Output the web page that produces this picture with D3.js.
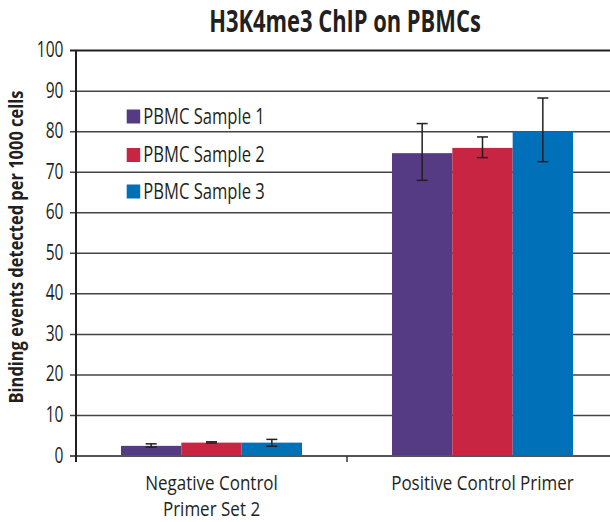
<!DOCTYPE html>
<html>
<head>
<meta charset="utf-8">
<script src="https://cdn.jsdelivr.net/npm/d3@7"></script>
<style>
  body { margin: 0; background: #fff; }
  svg text { font-family: "Open Sans", sans-serif; fill: #231f20; }
</style>
</head>
<body>
<div id="chart"></div>
<script>
// 数据
const categories = ["Negative Control|Primer Set 2", "Positive Control Primer"];
const seriesNames = ["PBMC Sample 1", "PBMC Sample 2", "PBMC Sample 3"];
const seriesColors = ["#553a84", "#c72541", "#0071b9"];
const values = [
    [2.5, 74.7],
    [3.3, 76.0],
    [3.3, 80.1]
];
const errLow = [
    [2.2, 68.0],
    [3.2, 73.6],
    [2.4, 72.6]
];
const errHigh = [
    [3.0, 82.0],
    [3.5, 78.7],
    [4.1, 88.3]
];
const yTicks = [0, 10, 20, 30, 40, 50, 60, 70, 80, 90, 100];

const width = 610, height = 522;
const margin = { left: 76, right: -8, top: 50.6, bottom: 66 };

// 参考图字体是窄体，用 textLength 压缩
function condense(sel, k) {
    sel.each(function() {
        const len = this.getComputedTextLength();
        d3.select(this)
            .attr("textLength", len * k)
            .attr("lengthAdjust", "spacingAndGlyphs");
    });
}

const svg = d3.select("#chart").append("svg")
    .attr("width", width)
    .attr("height", height);

const x = d3.scaleBand()
    .domain(categories)
    .range([margin.left, width - margin.right])
    .padding(0);

const y = d3.scaleLinear()
    .domain([0, 100])
    .range([456, margin.top]);

// 每组柱子宽约 181px
const groupW = 181;
const x1 = d3.scaleBand()
    .domain(d3.range(seriesNames.length))
    .range([(x.bandwidth() - groupW) / 2, (x.bandwidth() + groupW) / 2])
    .padding(0);

// 网格线
svg.append("g")
    .selectAll("line")
    .data(yTicks.filter(d => d > 0))
    .enter()
    .append("line")
    .attr("x1", margin.left - 6)
    .attr("x2", width)
    .attr("y1", d => y(d))
    .attr("y2", d => y(d))
    .attr("stroke", d => d === 100 ? "#231f20" : "#444")
    .attr("stroke-width", d => d === 100 ? 2 : 1.5);

// 柱子
const groups = svg.append("g")
    .selectAll("g")
    .data(categories)
    .enter()
    .append("g")
    .attr("transform", d => `translate(${x(d)},0)`);

groups.each(function(cat, ci) {
    const g = d3.select(this);
    seriesNames.forEach((s, si) => {
        g.append("rect")
            .attr("x", x1(si))
            .attr("y", y(values[si][ci]))
            .attr("width", x1.bandwidth())
            .attr("height", y(0) - y(values[si][ci]))
            .attr("fill", seriesColors[si]);
    });
    seriesNames.forEach((s, si) => {
        const cx = x1(si) + x1.bandwidth() / 2;
        const lo = y(errLow[si][ci]), hi = y(errHigh[si][ci]);
        g.append("line")
            .attr("x1", cx).attr("x2", cx)
            .attr("y1", hi).attr("y2", lo)
            .attr("stroke", "#231f20").attr("stroke-width", 1.5);
        [hi, lo].forEach(v => {
            g.append("line")
                .attr("x1", cx - 5.5).attr("x2", cx + 5.5)
                .attr("y1", v).attr("y2", v)
                .attr("stroke", "#231f20").attr("stroke-width", 1.5);
        });
    });
});

// 零轴
svg.append("line")
    .attr("x1", margin.left - 6)
    .attr("x2", width)
    .attr("y1", y(0))
    .attr("y2", y(0))
    .attr("stroke", "#555")
    .attr("stroke-width", 2);

// 分类刻度
svg.append("g")
    .selectAll("line")
    .data(categories.slice(1))
    .enter()
    .append("line")
    .attr("x1", d => x(d))
    .attr("x2", d => x(d))
    .attr("y1", y(0))
    .attr("y2", y(0) + 6)
    .attr("stroke", "#333")
    .attr("stroke-width", 1.5);

// Y 轴
svg.append("line")
    .attr("x1", margin.left)
    .attr("x2", margin.left)
    .attr("y1", y(100))
    .attr("y2", y(0) + 6)
    .attr("stroke", "#231f20")
    .attr("stroke-width", 2);

svg.append("g")
    .selectAll("text")
    .data(yTicks)
    .enter()
    .append("text")
    .attr("x", 63.5)
    .attr("y", d => y(d) + 6.5)
    .attr("text-anchor", "end")
    .attr("font-size", 21)
    .text(d => d)
    .call(condense, 0.74);

// X 轴标签
svg.append("g")
    .selectAll("text")
    .data(categories)
    .enter()
    .append("text")
    .attr("text-anchor", "middle")
    .attr("font-size", 20)
    .attr("transform", d => `translate(${x(d) + x.bandwidth() / 2},490)`)
    .each(function(d) {
        const t = d3.select(this);
        d.split("|").forEach((line, i) => {
            t.append("tspan")
                .attr("x", 0)
                .attr("y", i * 26)
                .text(line);
        });
    })
    .selectAll("tspan")
    .call(condense, 0.85);

// 标题
svg.append("text")
    .attr("x", 345)
    .attr("y", 32)
    .attr("text-anchor", "middle")
    .attr("font-size", 30)
    .attr("font-weight", "bold")
    .text("H3K4me3 ChIP on PBMCs")
    .call(condense, 0.73);

// Y 轴标题
svg.append("text")
    .attr("transform", `translate(23,247) rotate(-90)`)
    .attr("text-anchor", "middle")
    .attr("font-size", 20)
    .attr("font-weight", "bold")
    .text("Binding events detected per 1000 cells")
    .call(function(sel) {
        const len = sel.node().getComputedTextLength();
        condense(sel, 313 / len);
    });

// 图例
const legendY = [123.5, 162, 198.5];
const legend = svg.append("g")
    .selectAll("g")
    .data(seriesNames)
    .enter()
    .append("g")
    .attr("transform", (d, i) => `translate(126.7,${legendY[i]})`);

legend.append("rect")
    .attr("x", 0)
    .attr("y", -14)
    .attr("width", 13.5)
    .attr("height", 14)
    .attr("fill", (d, i) => seriesColors[i]);

legend.append("text")
    .attr("x", 16.6)
    .attr("y", 0)
    .attr("font-size", 21)
    .text(d => d)
    .call(condense, 0.79);
</script>
</body>
</html>
